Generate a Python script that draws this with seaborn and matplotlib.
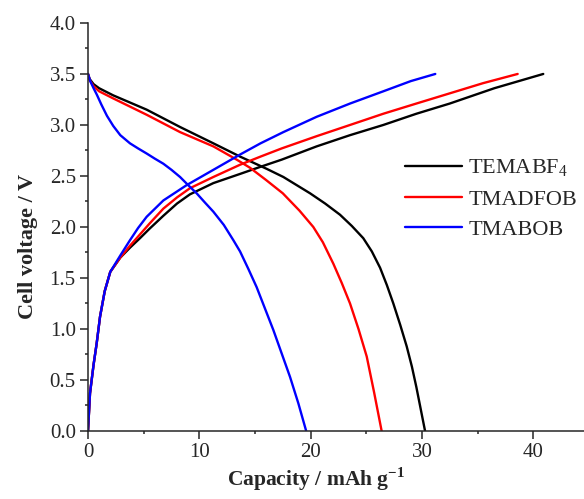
import pandas as pd
import matplotlib.pyplot as plt
import seaborn as sns
from matplotlib.ticker import MultipleLocator

# charge branches (capacity in mAh/g, voltage in V)
temabf4_chg_x = [0, 0.18, 0.5, 0.78, 1.08, 1.5, 2.0, 2.9, 3.8, 4.67, 5.5, 6.77, 8, 9.16, 11.26, 13.66,
                 15.5, 17.4, 20.54, 23.54, 26.53, 29.5, 32.5, 36.5, 40.9]
temabf4_chg_v = [0, 0.37, 0.65, 0.86, 1.12, 1.37, 1.56, 1.70, 1.80, 1.89, 1.98, 2.11, 2.23, 2.32, 2.43, 2.52,
                 2.59, 2.66, 2.79, 2.90, 3.0, 3.11, 3.21, 3.36, 3.5]
tmadfob_chg_x = [0, 0.18, 0.5, 0.78, 1.08, 1.5, 2.0, 2.9, 3.8, 4.37, 5.5, 6.77, 8, 9.16, 11.26, 13.66,
                 15.5, 17.4, 20.54, 23.54, 26.53, 29.5, 32.5, 35.5, 38.6]
tmadfob_chg_v = [0, 0.37, 0.65, 0.86, 1.12, 1.37, 1.56, 1.70, 1.82, 1.89, 2.03, 2.18, 2.29, 2.38, 2.49, 2.61,
                 2.69, 2.77, 2.89, 3.00, 3.11, 3.21, 3.31, 3.41, 3.5]
tmabob_chg_x = [0, 0.18, 0.5, 0.78, 1.08, 1.5, 2.0, 2.9, 3.77, 4.5, 5.27, 6.77, 8.86, 11.26, 13.66,
                15.5, 17.55, 20.54, 23.54, 26.53, 29, 31.2]
tmabob_chg_v = [0, 0.37, 0.65, 0.86, 1.12, 1.37, 1.56, 1.72, 1.87, 1.99, 2.10, 2.26, 2.41, 2.56, 2.71,
                2.82, 2.93, 3.08, 3.21, 3.33, 3.43, 3.5]

# discharge branches
temabf4_dis_x = [0, 0.15, 0.5, 1, 2.27, 5.27, 8.27, 11.26, 13.66, 16.05, 17.55, 19.95, 21.3, 22.64,
                 23.7, 24.73, 25.5, 26.24, 26.85, 27.43, 28.05, 28.63, 29.1, 29.5, 30.28]
temabf4_dis_v = [3.5, 3.45, 3.40, 3.36, 3.29, 3.15, 2.98, 2.82, 2.69, 2.57, 2.49, 2.33, 2.23, 2.12,
                 2.01, 1.89, 1.76, 1.6, 1.43, 1.25, 1.04, 0.83, 0.63, 0.43, 0]
tmadfob_dis_x = [0, 0.15, 0.5, 1, 2.27, 5.27, 8.27, 11.26, 13.36, 14.56, 16, 17.5, 19, 20.24, 21.1,
                 22.04, 22.8, 23.54, 24.3, 25.04, 25.7, 26.38]
tmadfob_dis_v = [3.5, 3.44, 3.38, 3.33, 3.26, 3.10, 2.93, 2.79, 2.66, 2.58, 2.46, 2.33, 2.16, 2.0, 1.85,
                 1.64, 1.45, 1.25, 1.0, 0.73, 0.38, 0]
tmabob_dis_x = [0, 0.2, 0.5, 0.78, 1.2, 1.7, 2.27, 2.9, 3.77, 4.5, 5.27, 6, 6.77, 7.5, 8.27, 9, 9.76,
                10.5, 11.26, 12.2, 13.06, 13.66, 14.4, 15.15, 15.9, 16.65, 17.4, 18.15, 18.9, 19.6]
tmabob_dis_v = [3.5, 3.43, 3.36, 3.30, 3.2, 3.09, 2.99, 2.9, 2.82, 2.77, 2.72, 2.67, 2.62, 2.56, 2.49,
                2.41, 2.33, 2.24, 2.15, 2.02, 1.87, 1.76, 1.59, 1.41, 1.2, 0.99, 0.76, 0.53, 0.27, 0]

names = ["TEMABF$_4$", "TMADFOB", "TMABOB"]
colors = ["black", "red", "blue"]
curves = [
    [(temabf4_chg_x, temabf4_chg_v), (temabf4_dis_x, temabf4_dis_v)],
    [(tmadfob_chg_x, tmadfob_chg_v), (tmadfob_dis_x, tmadfob_dis_v)],
    [(tmabob_chg_x, tmabob_chg_v), (tmabob_dis_x, tmabob_dis_v)],
]

sns.set_style("ticks")
plt.rcParams["font.family"] = ["Liberation Serif", "DejaVu Serif"]
plt.rcParams["mathtext.fontset"] = "custom"
plt.rcParams["mathtext.rm"] = "Liberation Serif"
plt.rcParams["mathtext.bf"] = "Liberation Serif:bold"

fig = plt.figure(figsize=(5.84, 4.99), dpi=100)
ax = fig.add_axes([0.1507, 0.1363, 0.8493, 0.8177])

for name, col, branches in zip(names, colors, curves):
    for i, (x, v) in enumerate(branches):
        df = pd.DataFrame({"cap": x, "v": v})
        sns.lineplot(data=df, x="cap", y="v", sort=False, color=col, lw=1.7,
                     label=name if i == 0 else None, ax=ax, legend=False)

ax.set_xlim(0, 44.56)
ax.set_ylim(0, 4.0)
ax.xaxis.set_major_locator(MultipleLocator(10))
ax.xaxis.set_minor_locator(MultipleLocator(5))
ax.yaxis.set_major_locator(MultipleLocator(0.5))
ax.yaxis.set_minor_locator(MultipleLocator(0.25))
ax.tick_params(which="major", length=5.8, width=1.1, labelsize=15, direction="out", pad=3)
ax.tick_params(which="minor", length=2.5, width=1.1, direction="out")
for s in ["left", "bottom"]:
    ax.spines[s].set_linewidth(1.1)
sns.despine(ax=ax)

ax.set_xlabel("Capacity / mAh g$^{\\mathbf{-1}}$", fontsize=15.5, fontweight="bold")
ax.set_ylabel("Cell voltage / V", fontsize=16, fontweight="bold")
ax.xaxis.set_label_coords(0.46, -0.085)
ax.yaxis.set_label_coords(-0.101, 0.453)

ax.legend(loc="center left", bbox_to_anchor=(0.639, 0.569), frameon=False, fontsize=16,
          handlelength=2.55, handletextpad=0.3, labelspacing=0.45,
          borderaxespad=0, borderpad=0)

fig.savefig("out.png", dpi=100)
